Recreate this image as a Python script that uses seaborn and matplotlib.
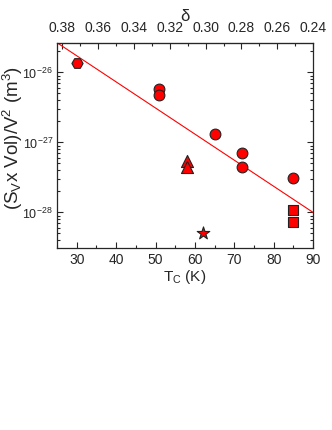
import numpy as np
import pandas as pd
import seaborn as sns
import matplotlib.pyplot as plt
from matplotlib.ticker import MultipleLocator, FixedLocator, NullFormatter

# data
tc = [30, 51, 51, 65, 72, 72, 85, 58, 58, 62, 85, 85]
noise = [1.36e-26, 5.8e-27, 4.7e-27, 1.3e-27, 7.0e-28, 4.5e-28, 3.06e-28,
         5.5e-28, 4.5e-28, 5.0e-29, 1.08e-28, 7.2e-29]
sample = ['hex', 'circ', 'circ', 'circ', 'circ', 'circ', 'circ',
          'tri', 'tri', 'star', 'sq', 'sq']
fit_tc = [25, 90]
fit_noise = [2.65e-26, 1.0e-28]
y_ticks = [1e-28, 1e-27, 1e-26]
# delta vs Tc (linear): delta = 0.24 at 90 K, slope -0.0022 per K
delta_ticks = [0.38, 0.36, 0.34, 0.32, 0.30, 0.28, 0.26, 0.24]

df = pd.DataFrame({'tc': tc, 'noise': noise, 'sample': sample})

sns.set_style('ticks')
plt.rcParams['font.family'] = ['Liberation Sans', 'DejaVu Sans']
plt.rcParams['mathtext.fontset'] = 'custom'
plt.rcParams['mathtext.rm'] = 'Liberation Sans'
plt.rcParams['mathtext.it'] = 'Liberation Sans:italic'
plt.rcParams['mathtext.default'] = 'regular'

fig = plt.figure(figsize=(3.32, 4.30), dpi=100)
ax = fig.add_axes([0.172, 0.423, 0.771, 0.477])

sns.lineplot(x=fit_tc, y=fit_noise, ax=ax, color='red', linewidth=0.8)
markers = {'hex': 'H', 'circ': 'o', 'tri': '^', 'star': '*', 'sq': 's'}
sizes = {'hex': 65, 'circ': 60, 'tri': 75, 'star': 90, 'sq': 50}
for key, m in markers.items():
    sub = df[df['sample'] == key]
    sns.scatterplot(data=sub, x='tc', y='noise', marker=m, s=sizes[key],
                    color='red', edgecolor='#222222', linewidth=0.8, ax=ax,
                    legend=False, zorder=3)

ax.set_yscale('log')
ax.set_xlim(25, 90)
ax.set_ylim(10**-28.51, 10**-25.58)
ax.xaxis.set_major_locator(MultipleLocator(10))
ax.xaxis.set_minor_locator(MultipleLocator(5))
ax.yaxis.set_major_locator(FixedLocator(y_ticks))
ax.yaxis.set_minor_formatter(NullFormatter())
ax.tick_params(which='both', direction='in', right=True, top=False,
               width=0.8)
ax.tick_params(axis='x', pad=3.5, labelsize=10)
ax.tick_params(axis='y', pad=3, labelsize=9)
ax.tick_params(which='major', length=4)
ax.tick_params(which='minor', length=2)
ax.set_xlabel('T$_C$ (K)', fontsize=11, labelpad=1)
ax.set_ylabel('(S$_V$x Vol)/V$^2$ (m$^3$)', fontsize=13.5)
ax.yaxis.set_label_coords(-0.125, 0.539)
for s in ax.spines.values():
    s.set_linewidth(0.9)

sec = ax.secondary_xaxis('top', functions=(lambda t: 0.24 + (90 - t) * 0.0022,
                                           lambda d: 90 - (d - 0.24) / 0.0022))
sec.set_xticks(delta_ticks)
sec.set_xticklabels([f'{d:.2f}' for d in delta_ticks])
sec.xaxis.set_minor_locator(MultipleLocator(0.01))
sec.tick_params(which='both', direction='in', labelsize=10, width=0.8, pad=6)
sec.tick_params(which='major', length=4)
sec.tick_params(which='minor', length=2)
sec.set_xlabel('δ', fontsize=12, labelpad=0)

ax.grid(False)
fig.savefig('out.png', dpi=100)
